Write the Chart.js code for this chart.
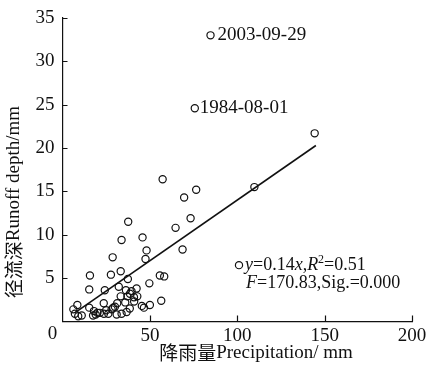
<!DOCTYPE html>
<html>
<head>
<meta charset="utf-8">
<script src="https://cdn.jsdelivr.net/npm/chart.js@4.4.1/dist/chart.umd.min.js"></script>
<style>
    html, body { margin: 0; padding: 0; background: #fff; }
    #wrap { width: 427px; height: 367px; }
</style>
</head>
<body>
<div id="wrap"><canvas id="runoffChart"></canvas></div>
<script>
// Event precipitation (mm) and runoff depth (mm)
const precipitation = [
    84.7, 75.7, 144.3, 57.3, 76.5, 69.6, 109.8, 73.3, 64.7, 68.7, 101,
    37.6, 33.8, 45.8, 48.1, 47.5, 28.7,
    15.7, 27.7, 33.3, 37.4, 55.7, 58.2, 49.7,
    15.3, 24.2, 32.2, 36.3, 38.6, 40.9, 42.8, 42.4, 37.2, 33.3,
    31.3, 35.9, 23.6, 56.5, 50, 45.4, 46.6, 30, 28.1, 29, 33.8, 36.7, 26.2,
    15.3, 18, 19, 20, 17.5, 8.5, 6.2, 7.1, 9, 11, 21.4, 23.7,
    39.5, 41, 25, 31, 38.5
];
const runoff = [
    33.0, 24.6, 21.7, 16.4, 15.2, 14.3, 15.5, 11.9, 10.8, 8.3, 6.5,
    11.5, 9.4, 9.7, 8.2, 7.2, 7.4,
    5.3, 5.4, 5.8, 4.9, 5.3, 5.2, 4.4,
    3.7, 3.6, 4.0, 3.6, 3.2, 2.8, 2.9, 3.8, 2.9, 2.9,
    2.1, 2.2, 2.1, 2.4, 1.9, 1.8, 1.6, 1.7, 1.4, 1.6, 0.9, 1.1, 0.9,
    1.6, 1.2, 0.8, 1.0, 0.7, 1.9, 1.4, 0.9, 0.6, 0.7, 1.0, 0.9,
    3.5, 2.3, 1.3, 0.8, 1.5
];

// labelled events (index into the arrays above)
const eventIndex = [0, 1];
const eventDates = ['2003-09-29', '1984-08-01'];

// fitted line y = 0.14x, drawn between these end points
const fitX = [7, 145];
const fitY = [1.0, 20.3];
const statsIndex = 10;

const xTickMax = 200;
const xTickStep = 50;
const yTickMax = 35;
const yTickStep = 5;

const FONT = "'Liberation Serif', 'Noto Sans CJK SC', serif";
const CJK = "'Noto Sans CJK SC', 'Liberation Serif', serif";

// draws inward ticks, point labels, regression text and axis titles
const decorations = {
    id: 'decorations',
    afterDraw(chart) {
        const { ctx, scales: { x, y } } = chart;
        ctx.save();
        ctx.strokeStyle = '#111';
        ctx.lineWidth = 1.2;
        ctx.beginPath();
        x.ticks.forEach(t => {
            if (t.value === 0) return;
            const px = Math.round(x.getPixelForValue(t.value)) + 0.5;
            ctx.moveTo(px, y.bottom);
            ctx.lineTo(px, y.bottom - 6);
        });
        y.ticks.forEach(t => {
            if (t.value === 0) return;
            const py = Math.round(y.getPixelForValue(t.value)) + 0.5;
            ctx.moveTo(x.left, py);
            ctx.lineTo(x.left + 5, py);
        });
        ctx.stroke();

        ctx.fillStyle = '#111';
        ctx.textBaseline = 'middle';
        ctx.font = '19px ' + FONT;
        // shared origin label, set left of the corner
        ctx.textAlign = 'center';
        ctx.fillText('0', x.left - 10, y.bottom + 13);
        ctx.textAlign = 'left';
        eventIndex.forEach((idx, i) => {
            const px = x.getPixelForValue(precipitation[idx]);
            const py = y.getPixelForValue(runoff[idx]);
            ctx.fillText(eventDates[i], px + (i === 0 ? 7 : 5), py);
        });

        // regression statistics, mixed italic segments
        const sx = x.getPixelForValue(precipitation[statsIndex]) + 6;
        const sy = y.getPixelForValue(runoff[statsIndex]);
        const runs = (parts, x0, y0) => {
            let cx = x0;
            parts.forEach(([text, style]) => {
                let size = 18, dy = 0;
                if (style === 'sup') { size = 12; dy = -5; }
                ctx.font = (style === 'i' ? 'italic ' : '') + size + 'px ' + FONT;
                ctx.fillText(text, cx, y0 + dy);
                cx += ctx.measureText(text).width;
            });
        };
        runs([['y', 'i'], ['=0.14', ''], ['x', 'i'], [',', ''], ['R', 'i'], ['2', 'sup'], ['=0.51', '']], sx, sy);
        runs([['F', 'i'], ['=170.83,Sig.=0.000', '']], sx + 1, sy + 18);

        // axis titles
        ctx.font = '19px ' + CJK;
        const xTitle = ['降雨量', 'Precipitation/ mm'];
        const w1 = ctx.measureText(xTitle[0]).width;
        ctx.font = '19px ' + FONT;
        const w2 = ctx.measureText(xTitle[1]).width;
        let tx = 256 - (w1 + w2) / 2;
        ctx.font = '19px ' + CJK;
        ctx.fillText(xTitle[0], tx, 353);
        ctx.font = '19px ' + FONT;
        ctx.fillText(xTitle[1], tx + w1, 353);

        ctx.translate(14, 202);
        ctx.rotate(-Math.PI / 2);
        const yTitle = ['径流深', 'Runoff depth/mm'];
        ctx.font = '19px ' + CJK;
        const v1 = ctx.measureText(yTitle[0]).width;
        ctx.font = '19px ' + FONT;
        const v2 = ctx.measureText(yTitle[1]).width;
        tx = -(v1 + v2) / 2;
        ctx.font = '19px ' + CJK;
        ctx.fillText(yTitle[0], tx, 0);
        ctx.font = '19px ' + FONT;
        ctx.fillText(yTitle[1], tx + v1, 0);
        ctx.restore();
    }
};

document.addEventListener('DOMContentLoaded', () => {
    const ctx = document.getElementById('runoffChart').getContext('2d');
    const points = precipitation.map((p, i) => ({ x: p, y: runoff[i] }));
    const fit = fitX.map((p, i) => ({ x: p, y: fitY[i] }));

    new Chart(ctx, {
        type: 'scatter',
        data: {
            datasets: [{
                label: 'fit',
                data: fit,
                showLine: true,
                borderColor: '#111',
                borderWidth: 1.6,
                pointRadius: 0
            }, {
                label: 'events',
                data: points,
                pointRadius: 3.6,
                pointBorderWidth: 1.2,
                pointBorderColor: '#111',
                pointBackgroundColor: 'rgba(255,255,255,0)'
            }]
        },
        options: {
            responsive: true,
            maintainAspectRatio: false,
            animation: false,
            layout: { padding: { left: 0, top: 18, right: 15, bottom: 0 } },
            plugins: {
                legend: { display: false },
                tooltip: { enabled: false }
            },
            scales: {
                x: {
                    type: 'linear',
                    min: 0,
                    max: xTickMax,
                    grid: { display: false },
                    border: { display: true, color: '#111', width: 1.2 },
                    ticks: {
                        stepSize: xTickStep,
                        padding: -5,
                        color: '#111',
                        maxRotation: 0,
                        font: { family: FONT, size: 19 },
                        callback: v => (v === 0 ? '' : v)
                    },
                    afterFit: s => { s.height = 45.5; }
                },
                y: {
                    min: 0,
                    max: yTickMax,
                    grid: { display: false },
                    border: { display: true, color: '#111', width: 1.2 },
                    ticks: {
                        stepSize: yTickStep,
                        padding: 0,
                        color: '#111',
                        font: { family: FONT, size: 19 },
                        callback: v => (v === 0 ? '' : v)
                    },
                    afterFit: s => { s.width = 62.5; }
                }
            }
        },
        plugins: [decorations]
    });
});
</script>
</body>
</html>
